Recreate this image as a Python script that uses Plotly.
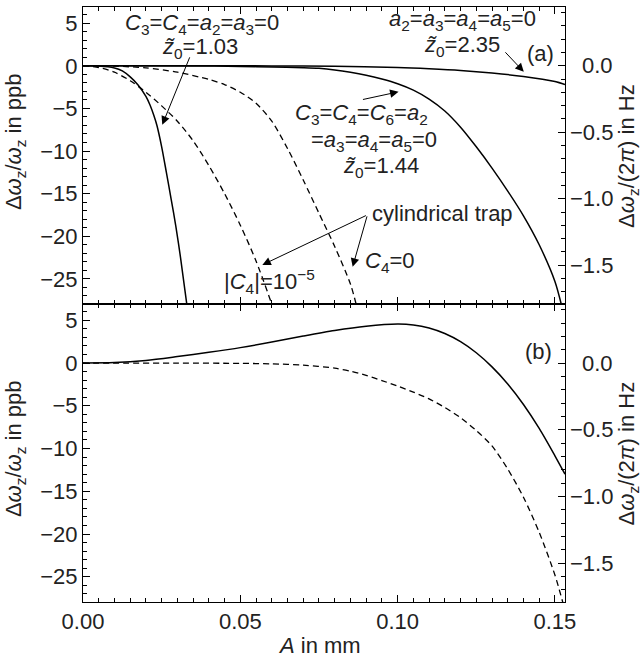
import plotly.graph_objects as go

# ---------------- data (A in mm, frequency shift in ppb) ----------------
# panel (a)
A_z103 = [0, 0.005, 0.01, 0.0125, 0.015, 0.0175, 0.02, 0.0213, 0.0225, 0.0235, 0.025, 0.0265, 0.028, 0.0295, 0.031, 0.033]
v_z103 = [0, -0.02, -0.25, -0.6, -1.3, -2.25, -3.6, -4.6, -5.8, -7.0, -9.5, -12.5, -15.6, -18.8, -22.5, -28.0]

A_cyl_c4 = [0, 0.005, 0.01, 0.015, 0.02, 0.025, 0.03, 0.035, 0.04, 0.045, 0.05, 0.055, 0.06]
v_cyl_c4 = [0, -0.2, -0.75, -1.75, -3.1, -4.7, -6.5, -8.8, -11.7, -15.0, -18.7, -22.9, -27.95]

A_cyl_c0 = [0, 0.01, 0.02, 0.03, 0.04, 0.045, 0.05, 0.055, 0.06, 0.065, 0.07, 0.075, 0.08, 0.085, 0.0868]
v_cyl_c0 = [0, -0.03, -0.25, -0.75, -1.6, -2.2, -3.1, -4.4, -6.5, -9.7, -13.4, -17.3, -21.2, -25.6, -27.95]

A_z144 = [0, 0.04, 0.05, 0.06, 0.07, 0.075, 0.08, 0.085, 0.09, 0.095, 0.1, 0.105, 0.11, 0.115, 0.12, 0.125, 0.13, 0.135, 0.14, 0.145, 0.15, 0.152]
v_z144 = [0, -0.03, -0.07, -0.13, -0.22, -0.3, -0.48, -0.75, -1.1, -1.55, -2.1, -2.85, -3.9, -5.3, -7.2, -9.5, -12.0, -14.7, -17.6, -21.0, -25.3, -27.95]

A_z235 = [0, 0.04, 0.06, 0.08, 0.1, 0.11, 0.12, 0.13, 0.14, 0.15, 0.1532]
v_z235 = [0, 0, -0.01, -0.05, -0.2, -0.35, -0.55, -0.85, -1.25, -1.85, -2.2]

# panel (b)
A_b_solid = [0, 0.01, 0.02, 0.03, 0.04, 0.05, 0.06, 0.07, 0.08, 0.09, 0.1, 0.105, 0.11, 0.115, 0.12, 0.125, 0.13, 0.135, 0.14, 0.145, 0.15, 0.1532]
v_b_solid = [0, 0.05, 0.3, 0.75, 1.25, 1.8, 2.45, 3.15, 3.8, 4.3, 4.55, 4.45, 4.1, 3.45, 2.5, 1.2, -0.45, -2.45, -4.85, -7.65, -10.85, -13.0]

A_b_dash = [0, 0.03, 0.05, 0.06, 0.07, 0.08, 0.085, 0.09, 0.095, 0.1, 0.105, 0.11, 0.115, 0.12, 0.125, 0.13, 0.135, 0.14, 0.145, 0.15, 0.1525]
v_b_dash = [0, -0.01, -0.04, -0.1, -0.25, -0.6, -0.95, -1.45, -2.05, -2.7, -3.4, -4.2, -5.2, -6.4, -7.9, -9.7, -12.4, -15.7, -19.8, -24.8, -28.0]

# axes
X_RANGE = [0, 0.1532]
X_TICKS = [0.00, 0.05, 0.10, 0.15]
PPB_RANGE = [-27.95, 6.9]
PPB_TICKS = [-25, -20, -15, -10, -5, 0, 5]
HZ_PER_PPB = 0.0641
HZ_TICKS = [-1.5, -1.0, -0.5, 0.0]

FONT = "Liberation Sans, Arial, sans-serif"
TXT = "#222222"
SPLIT = 0.5008
TICK_SIZE = 22
ANN_SIZE = 22

fig = go.Figure()

def line(x, y, xa, ya, dash):
    fig.add_trace(go.Scatter(
        x=x, y=y, xaxis=xa, yaxis=ya, mode="lines",
        line=dict(color="black", width=1.5 if dash is None else 1.3,
                  dash=dash if dash else "solid", shape="spline", smoothing=0.8),
        showlegend=False, hoverinfo="skip"))

DASH = "6px,4px"
# top panel (a)
line(A_z103, v_z103, "x2", "y2", None)
line(A_cyl_c4, v_cyl_c4, "x2", "y2", DASH)
line(A_cyl_c0, v_cyl_c0, "x2", "y2", DASH)
line(A_z144, v_z144, "x2", "y2", None)
line(A_z235, v_z235, "x2", "y2", None)
# bottom panel (b)
line(A_b_solid, v_b_solid, "x", "y", None)
line(A_b_dash, v_b_dash, "x", "y", DASH)

# invisible traces to create the right-hand (Hz) axes
for ya in ("y3", "y4"):
    fig.add_trace(go.Scatter(x=X_RANGE, y=[0, 0], xaxis="x" if ya == "y3" else "x2",
                             yaxis=ya, mode="lines", opacity=0,
                             showlegend=False, hoverinfo="skip"))

tickfont = dict(family=FONT, size=TICK_SIZE, color=TXT)
common_x = dict(range=X_RANGE, showline=True, linecolor="black", linewidth=1,
                ticks="inside", ticklen=7, tickcolor="black", mirror="ticks",
                showgrid=False, zeroline=False, automargin=False,
                minor=dict(dtick=0.005, ticks="inside", ticklen=4, tickcolor="black"),
                tickvals=X_TICKS, tickfont=tickfont)
common_yl = dict(range=PPB_RANGE, showline=True, linecolor="black", linewidth=1,
                 ticks="inside", ticklen=7, tickcolor="black", automargin=False,
                 showgrid=False, zeroline=False, tickvals=PPB_TICKS,
                 minor=dict(dtick=1, ticks="inside", ticklen=4, tickcolor="black"),
                 tickfont=tickfont)
HZ_RANGE = [PPB_RANGE[0] * HZ_PER_PPB, PPB_RANGE[1] * HZ_PER_PPB]
common_yr = dict(range=HZ_RANGE,
                 showline=True, linecolor="black", linewidth=1, side="right",
                 ticks="inside", ticklen=7, tickcolor="black", automargin=False,
                 showgrid=False, zeroline=False, tickvals=HZ_TICKS,
                 showticklabels=False,
                 minor=dict(dtick=0.1, ticks="inside", ticklen=4, tickcolor="black"))

fig.update_layout(
    width=641, height=660,
    margin=dict(l=83, r=76, t=7, b=58, autoexpand=False),
    paper_bgcolor="white", plot_bgcolor="white",
    font=dict(family=FONT, size=TICK_SIZE, color=TXT),
    xaxis=dict(domain=[0, 1], anchor="y", tickformat=".2f", **common_x),
    yaxis=dict(domain=[0, SPLIT], anchor="x", **common_yl),
    xaxis2=dict(domain=[0, 1], anchor="y2", matches="x", showticklabels=False, **common_x),
    yaxis2=dict(domain=[SPLIT, 1], anchor="x2", **common_yl),
    yaxis3=dict(overlaying="y", anchor="x", **common_yr),
    yaxis4=dict(overlaying="y2", anchor="x2", **common_yr),
)

def label(text, x, y, xref="x2", yref="y2", size=ANN_SIZE, angle=0, xanchor="center"):
    fig.add_annotation(text=text, x=x, y=y, xref=xref, yref=yref, showarrow=False,
                       font=dict(family=FONT, size=size, color=TXT), textangle=angle,
                       xanchor=xanchor, yanchor="middle")

def arrow(x0, y0, x1, y1, xref="x2", yref="y2"):
    fig.add_annotation(text="", x=x1, y=y1, ax=x0, ay=y0, xref=xref, yref=yref,
                       axref=xref, ayref=yref, showarrow=True, arrowhead=2,
                       arrowsize=1.7, arrowwidth=1, arrowcolor="black", standoff=0,
                       startstandoff=0)

# right-hand (Hz) tick labels, right-aligned like the original
for ya in ("y3", "y4"):
    for t in HZ_TICKS:
        label(f"{t:.1f}".replace("-", "\u2212"), 1.1037, t, xref="paper", yref=ya,
              size=TICK_SIZE, xanchor="right")

Z = "<i>z\u0303</i><sub>0</sub>"
# panel (a) labels
label("<i>C</i><sub>3</sub>=<i>C</i><sub>4</sub>=<i>a</i><sub>2</sub>=<i>a</i><sub>3</sub>=0", 0.0379, 4.9)
label(Z + "=1.03", 0.0373, 2.1)
arrow(0.0341, 1.17, 0.0252, -6.92)

label("<i>a</i><sub>2</sub>=<i>a</i><sub>3</sub>=<i>a</i><sub>4</sub>=<i>a</i><sub>5</sub>=0", 0.1207, 5.4)
label(Z + "=2.35", 0.1204, 2.35)
arrow(0.1338, 1.76, 0.1401, -0.70)
label("(a)", 0.1455, 1.5)

label("<i>C</i><sub>3</sub>=<i>C</i><sub>4</sub>=<i>C</i><sub>6</sub>=<i>a</i><sub>2</sub>", 0.0885, -5.7)
label("=<i>a</i><sub>3</sub>=<i>a</i><sub>4</sub>=<i>a</i><sub>5</sub>=0", 0.0924, -8.85)
label(Z + "=1.44", 0.0946, -11.9)
arrow(0.0885, -3.99, 0.1003, -3.05)

label("cylindrical trap", 0.1143, -17.3)
arrow(0.0904, -17.49, 0.0570, -23.36)
arrow(0.0904, -17.49, 0.0857, -23.59)
label("<i>C</i><sub>4</sub>=0", 0.0975, -23.0)
label("|<i>C</i><sub>4</sub>|=10<sup>\u22125</sup>", 0.0592, -25.3)

# panel (b)
label("(b)", 0.1449, 1.29, xref="x", yref="y")

# axis titles
LEFT_T = "\u0394<i>\u03c9</i><sub>z</sub>/<i>\u03c9</i><sub>z</sub> in ppb"
RIGHT_T = "\u0394<i>\u03c9</i><sub>z</sub>/(2<i>\u03c0</i>) in Hz"
label(LEFT_T, -0.141, 0.773, xref="paper", yref="paper", size=22, angle=-90)
label(LEFT_T, -0.141, 0.257, xref="paper", yref="paper", size=22, angle=-90)
label(RIGHT_T, 1.131, 0.750, xref="paper", yref="paper", size=22, angle=-90)
label(RIGHT_T, 1.131, 0.250, xref="paper", yref="paper", size=22, angle=-90)
label("<i>A</i> in mm", 0.4917, -0.0723, xref="paper", yref="paper", size=22)

# remove the browser's default 8px body margin so the figure fills the window exactly
fig.write_html("out.html", config={"displayModeBar": False},
               post_script="document.body.style.margin='0';document.body.style.overflow='hidden';")
